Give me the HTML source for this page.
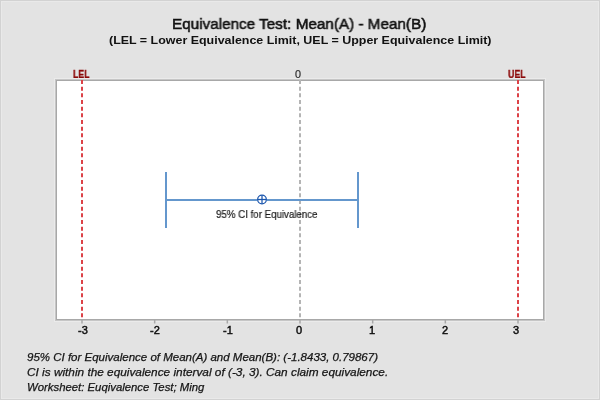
<!DOCTYPE html>
<html><head><meta charset="utf-8">
<style>
html,body{margin:0;padding:0;}
body{width:600px;height:400px;position:relative;overflow:hidden;background:#e3e3e3;font-family:"Liberation Sans",sans-serif;color:#111;}
#border{position:absolute;left:0;top:0;width:598px;height:398px;border:1px solid #d2d2d2;}
#border2{position:absolute;left:1px;top:1px;width:596px;height:396px;border:1px solid #e9e9e9;}
.t{position:absolute;white-space:nowrap;line-height:1;will-change:transform;}
#title{left:172px;top:16px;font-size:15.4px;color:#111;-webkit-text-stroke:0.55px #111;transform-origin:0 0;transform:scaleX(0.992);}
#sub{left:108.5px;top:34.4px;font-size:11.6px;font-weight:bold;color:#111;transform-origin:0 0;transform:scaleX(1.073);}
#lel{left:73.2px;top:69.8px;transform-origin:0 0;transform:scaleX(0.845);font-size:10.3px;font-weight:bold;color:#8c0a0a;-webkit-text-stroke:0.3px #8c0a0a;}
#uel{left:507.5px;top:69.8px;transform-origin:0 0;transform:scaleX(0.855);font-size:10.3px;font-weight:bold;color:#8c0a0a;-webkit-text-stroke:0.3px #8c0a0a;}
#z0{left:295px;top:69px;font-size:10.8px;color:#2a2a2a;-webkit-text-stroke:0.2px #2a2a2a;}
#frame{position:absolute;left:57px;top:81px;width:486px;height:238px;background:#fff;box-shadow:0 0 0 1px #a8a8a8,0 0 0 2px #c6c6c6,0 0 0 3px #ebebeb;}
.ax{position:absolute;will-change:transform;top:325px;width:40px;text-align:center;font-size:11px;color:#0d0d0d;-webkit-text-stroke:0.45px #0d0d0d;line-height:1;white-space:nowrap;}
.ft{position:absolute;will-change:transform;left:27px;font-size:11.2px;font-style:italic;color:#151515;-webkit-text-stroke:0.25px #151515;line-height:1;white-space:nowrap;transform-origin:0 0;}
#f1{top:351.5px;transform:scaleX(1.028);}
#f2{top:366.7px;transform:scaleX(1.056);}
#f3{top:381.7px;transform:scaleX(1.014);}
#cil{left:215.5px;top:210px;font-size:10.4px;transform-origin:0 0;transform:scaleX(0.935);color:#1a1a1a;-webkit-text-stroke:0.2px #1a1a1a;}
svg{position:absolute;left:0;top:0;}
</style></head>
<body>
<div id="border"></div><div id="border2"></div>
<div class="t" id="title">Equivalence Test: Mean(A) - Mean(B)</div>
<div class="t" id="sub">(LEL = Lower Equivalence Limit, UEL = Upper Equivalence Limit)</div>
<div class="t" id="lel">LEL</div>
<div class="t" id="uel">UEL</div>
<div class="t" id="z0">0</div>
<div id="frame"></div>
<svg width="600" height="400" viewBox="0 0 600 400">
  <!-- dashed reference lines -->
  <line x1="82" y1="80" x2="82" y2="319" stroke="#dc4247" stroke-width="2" stroke-dasharray="4 2.6667"/>
  <line x1="518" y1="80" x2="518" y2="319" stroke="#dc4247" stroke-width="2" stroke-dasharray="4 2.6667"/>
  <line x1="300" y1="80" x2="300" y2="319" stroke="#b4b4b4" stroke-width="2" stroke-dasharray="4 2.6667"/>
  <!-- ticks -->
  <g stroke="#a8a8a8" stroke-width="1.5">
    <line x1="82" y1="320" x2="82" y2="323.5"/>
    <line x1="154.67" y1="320" x2="154.67" y2="323.5"/>
    <line x1="227.33" y1="320" x2="227.33" y2="323.5"/>
    <line x1="300" y1="320" x2="300" y2="323.5"/>
    <line x1="372.67" y1="320" x2="372.67" y2="323.5"/>
    <line x1="445.33" y1="320" x2="445.33" y2="323.5"/>
    <line x1="518" y1="320" x2="518" y2="323.5"/>
  </g>
  <!-- CI bar -->
  <g stroke="#6497cd" stroke-width="2" fill="none">
    <line x1="166" y1="172" x2="166" y2="228"/>
    <line x1="358" y1="172" x2="358" y2="228"/>
    <line x1="166" y1="200" x2="257" y2="200"/>
    <line x1="267" y1="200" x2="358" y2="200"/>
  </g>
  <g stroke="#1a55ad" stroke-width="1.25" fill="#fff">
    <circle cx="262" cy="199.5" r="4.35"/>
    <line x1="257.6" y1="199.5" x2="266.4" y2="199.5"/>
    <line x1="262" y1="195.2" x2="262" y2="203.8"/>
  </g>
</svg>
<div class="t" id="cil">95% CI for Equivalence</div>
<div class="ax" style="left:62.9px">-3</div>
<div class="ax" style="left:135.1px">-2</div>
<div class="ax" style="left:208px">-1</div>
<div class="ax" style="left:279.40px">0</div>
<div class="ax" style="left:352.07px">1</div>
<div class="ax" style="left:424.73px">2</div>
<div class="ax" style="left:496.4px">3</div>
<div class="ft" id="f1">95% CI for Equivalence of Mean(A) and Mean(B): (-1.8433, 0.79867)</div>
<div class="ft" id="f2">CI is within the equivalence interval of (-3, 3). Can claim equivalence.</div>
<div class="ft" id="f3">Worksheet: Euqivalence Test; Ming</div>
</body></html>
